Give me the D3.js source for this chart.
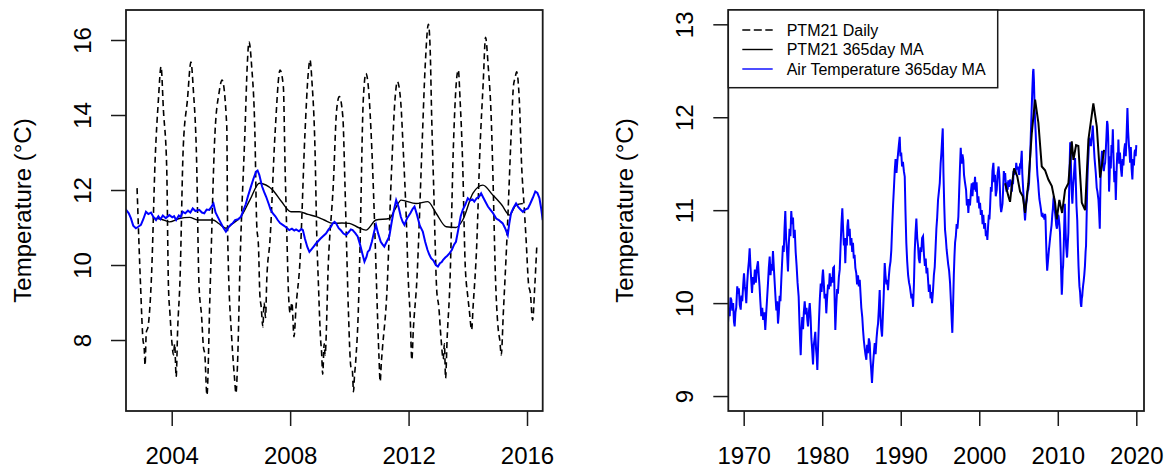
<!DOCTYPE html>
<html>
<head>
<meta charset="utf-8">
<script src="https://cdnjs.cloudflare.com/ajax/libs/d3/7.8.5/d3.min.js"></script>
<style>
  body { margin: 0; background: #fff; }
  svg { display: block; font-family: "Liberation Sans", Arial, Helvetica, sans-serif; }
</style>
</head>
<body>
<svg id="chart" width="1171" height="472"></svg>
<script>
// PTM21 daily water temperature (decimal year, °C)
const dailyYears = [
  2002.83, 2002.95, 2003.03, 2003.07, 2003.10, 2003.14, 2003.20, 2003.32, 2003.44, 2003.55, 2003.64, 2003.72, 2003.83, 2003.89, 2003.94,
  2004.00, 2004.06, 2004.10, 2004.15, 2004.20, 2004.28, 2004.39, 2004.53, 2004.65, 2004.73, 2004.84, 2004.92,
  2005.01, 2005.07, 2005.12, 2005.19, 2005.29, 2005.46, 2005.60, 2005.70, 2005.86, 2005.89,
  2006.03, 2006.08, 2006.12, 2006.17, 2006.22, 2006.31, 2006.48, 2006.55, 2006.61, 2006.70, 2006.81, 2006.87, 2006.93, 2006.98,
  2007.02, 2007.08, 2007.12, 2007.17, 2007.21, 2007.32, 2007.49, 2007.66, 2007.77, 2007.83, 2007.89, 2007.94,
  2008.00, 2008.06, 2008.13, 2008.20, 2008.33, 2008.50, 2008.61, 2008.67, 2008.74, 2008.84, 2008.90, 2008.95,
  2009.03, 2009.06, 2009.10, 2009.15, 2009.18, 2009.29, 2009.46, 2009.57, 2009.66, 2009.78, 2009.85, 2009.91, 2009.97,
  2010.05, 2010.10, 2010.14, 2010.17, 2010.22, 2010.30, 2010.36, 2010.47, 2010.56, 2010.64, 2010.76, 2010.87, 2010.93,
  2011.00, 2011.04, 2011.08, 2011.12, 2011.26, 2011.43, 2011.54, 2011.62, 2011.73, 2011.82, 2011.92, 2011.99,
  2012.05, 2012.11, 2012.16, 2012.28, 2012.45, 2012.56, 2012.67, 2012.73, 2012.78, 2012.86, 2012.90, 2012.95,
  2013.02, 2013.10, 2013.17, 2013.21, 2013.25, 2013.30, 2013.40, 2013.51, 2013.63, 2013.68, 2013.74, 2013.83, 2013.91,
  2014.00, 2014.05, 2014.13, 2014.18, 2014.30, 2014.41, 2014.52, 2014.60, 2014.69, 2014.79, 2014.87, 2014.92,
  2015.03, 2015.08, 2015.13, 2015.20, 2015.32, 2015.49, 2015.54, 2015.60, 2015.65, 2015.74, 2015.82, 2015.90, 2015.97,
  2016.05, 2016.12, 2016.16, 2016.19, 2016.26, 2016.33
];
const dailyTemps = [
  12.05, 9.40, 8.00, 7.80, 7.33, 8.20, 8.35, 9.76, 12.80, 14.40, 15.29, 14.13, 12.62, 9.42, 8.72,
  8.00, 7.60, 7.90, 7.02, 8.27, 9.60, 13.15, 14.40, 15.41, 14.67, 12.80, 9.50,
  8.62, 7.82, 7.60, 6.53, 9.16, 13.50, 14.60, 14.93, 13.69, 10.76,
  8.00, 7.40, 7.00, 6.58, 7.30, 10.10, 13.70, 15.30, 15.95, 15.30, 13.50, 11.10, 10.50, 9.16,
  8.90, 8.35, 9.00, 8.60, 9.60, 10.67, 13.50, 15.20, 14.76, 12.57, 10.76, 9.33,
  8.72, 9.00, 8.09, 8.90, 10.07, 13.50, 15.10, 15.47, 14.85, 13.07, 10.76, 9.60,
  8.00, 7.70, 7.09, 7.90, 7.60, 10.05, 12.18, 14.13, 14.49, 13.95, 12.18, 10.40, 8.72,
  7.29, 7.20, 6.62, 7.00, 7.50, 8.72, 10.50, 14.40, 15.11, 14.76, 13.07, 10.67, 9.16,
  7.56, 6.89, 7.40, 7.80, 9.16, 12.62, 14.40, 14.89, 14.40, 13.07, 11.29, 9.60,
  8.72, 7.47, 8.27, 9.60, 13.07, 15.29, 16.42, 15.73, 13.95, 11.73, 10.50, 9.33,
  8.89, 8.00, 7.49, 7.90, 6.98, 8.00, 9.60, 13.07, 15.02, 15.20, 14.40, 12.62, 10.05,
  9.16, 8.80, 8.27, 8.90, 10.50, 13.07, 14.85, 16.07, 15.29, 13.95, 11.73, 10.05,
  8.27, 8.00, 7.60, 8.72, 10.67, 13.95, 14.76, 15.00, 15.15, 14.40, 12.62, 11.60, 10.67,
  9.51, 9.20, 8.72, 8.53, 9.40, 10.49
];

// PTM21 365-day moving average (detail view)
const ptmMaYears = [
  2003.36, 2003.65, 2003.92, 2004.26, 2004.60, 2004.88, 2005.15, 2005.39, 2005.60, 2005.83, 2006.05, 2006.34, 2006.65, 2006.96,
  2007.41, 2007.70, 2008.03, 2008.31, 2008.60, 2008.88, 2009.15, 2009.44, 2009.75, 2010.00, 2010.30, 2010.56, 2010.90,
  2011.35, 2011.55, 2011.75, 2012.25, 2012.65, 2012.93, 2013.27, 2013.60, 2013.83, 2014.17, 2014.51, 2014.84, 2015.15,
  2015.41, 2015.63, 2015.86
];
const ptmMaTemps = [
  11.25, 11.22, 11.15, 11.24, 11.27, 11.20, 11.20, 11.20, 11.10, 10.98, 11.10, 11.29, 11.75, 12.18,
  12.00, 11.70, 11.42, 11.42, 11.35, 11.29, 11.20, 11.11, 11.12, 11.11, 11.00, 10.93, 11.20,
  11.24, 11.50, 11.73, 11.64, 11.69, 11.38, 11.02, 11.00, 11.20, 11.91, 12.13, 11.87, 11.60,
  11.33, 11.60, 11.64
];

// PTM21 365-day moving average (long-term view)
const ptmMaLongYears = [
  2003.29, 2003.71, 2003.92, 2004.14, 2004.43, 2004.85, 2005.20, 2005.54, 2005.83, 2006.25, 2006.69, 2007.11, 2007.53,
  2007.96, 2008.38, 2008.80, 2009.24, 2009.66, 2009.87, 2010.20, 2010.55, 2010.93, 2011.35, 2011.78, 2011.99, 2012.33,
  2012.62, 2013.06, 2013.48, 2013.90, 2014.53, 2014.97, 2015.39, 2015.90
];
const ptmMaLongTemps = [
  11.29, 11.15, 11.09, 11.26, 11.45, 11.36, 11.20, 11.15, 10.97, 11.29, 11.83, 12.19, 11.94,
  11.47, 11.43, 11.33, 11.26, 11.08, 10.90, 11.11, 10.97, 11.22, 11.29, 11.74, 11.54, 11.70,
  11.69, 11.08, 11.00, 11.76, 12.15, 11.90, 11.35, 11.65
];

// Air temperature 365-day moving average
const airYears = [
  1968.00, 1968.12, 1968.22, 1968.32, 1968.42, 1968.55, 1968.66, 1968.76, 1968.85, 1968.95, 1969.05, 1969.18, 1969.28,
  1969.38, 1969.50, 1969.62, 1969.72, 1969.82, 1969.94, 1970.04, 1970.14, 1970.24, 1970.33, 1970.45, 1970.55, 1970.66,
  1970.76, 1970.86, 1970.96, 1971.06, 1971.18, 1971.30, 1971.42, 1971.55, 1971.68, 1971.82, 1971.92, 1972.02, 1972.12,
  1972.24, 1972.36, 1972.48, 1972.62, 1972.75, 1972.86, 1972.98, 1973.10, 1973.20, 1973.31, 1973.42, 1973.52, 1973.62,
  1973.73, 1973.84, 1973.96, 1974.06, 1974.16, 1974.27, 1974.37, 1974.48, 1974.58, 1974.68, 1974.79, 1974.90, 1975.00,
  1975.10, 1975.20, 1975.30, 1975.40, 1975.52, 1975.64, 1975.74, 1975.84, 1975.95, 1976.06, 1976.16, 1976.28, 1976.38,
  1976.50, 1976.62, 1976.74, 1976.86, 1977.00, 1977.10, 1977.18, 1977.26, 1977.36, 1977.46, 1977.56, 1977.66, 1977.77,
  1977.88, 1978.00, 1978.10, 1978.19, 1978.30, 1978.41, 1978.52, 1978.62, 1978.72, 1978.83, 1978.93, 1979.03, 1979.12,
  1979.22, 1979.30, 1979.38, 1979.48, 1979.58, 1979.70, 1979.81, 1979.92, 1980.02, 1980.10, 1980.20, 1980.30, 1980.42,
  1980.52, 1980.62, 1980.74, 1980.85, 1980.96, 1981.06, 1981.18, 1981.28, 1981.40, 1981.50, 1981.58, 1981.67, 1981.78,
  1981.90, 1982.00, 1982.12, 1982.23, 1982.34, 1982.45, 1982.56, 1982.66, 1982.76, 1982.85, 1982.94, 1983.04, 1983.14,
  1983.20, 1983.29, 1983.40, 1983.50, 1983.60, 1983.72, 1983.82, 1983.92, 1984.02, 1984.12, 1984.22, 1984.34, 1984.44,
  1984.56, 1984.66, 1984.78, 1984.88, 1984.98, 1985.10, 1985.20, 1985.30, 1985.40, 1985.50, 1985.62, 1985.72, 1985.82,
  1985.94, 1986.05, 1986.14, 1986.24, 1986.34, 1986.44, 1986.54, 1986.62, 1986.69, 1986.80, 1986.92, 1987.02, 1987.11,
  1987.22, 1987.32, 1987.42, 1987.52, 1987.62, 1987.72, 1987.84, 1987.96, 1988.06, 1988.18, 1988.28, 1988.38, 1988.48,
  1988.58, 1988.70, 1988.80, 1988.90, 1989.02, 1989.14, 1989.24, 1989.34, 1989.46, 1989.56, 1989.66, 1989.76, 1989.87,
  1989.96, 1990.06, 1990.17, 1990.28, 1990.40, 1990.51, 1990.60, 1990.71, 1990.82, 1990.94, 1991.06, 1991.16, 1991.27,
  1991.36, 1991.46, 1991.57, 1991.68, 1991.78, 1991.88, 1991.99, 1992.10, 1992.20, 1992.30, 1992.42, 1992.52, 1992.62,
  1992.72, 1992.84, 1992.96, 1993.08, 1993.18, 1993.28, 1993.38, 1993.48, 1993.58, 1993.70, 1993.80, 1993.90, 1993.99,
  1994.10, 1994.22, 1994.33, 1994.44, 1994.54, 1994.64, 1994.75, 1994.86, 1994.97, 1995.08, 1995.18, 1995.26, 1995.35,
  1995.44, 1995.54, 1995.64, 1995.74, 1995.84, 1995.94, 1996.04, 1996.16, 1996.28, 1996.40, 1996.50, 1996.57, 1996.66,
  1996.76, 1996.84, 1996.92, 1997.02, 1997.12, 1997.22, 1997.34, 1997.44, 1997.54, 1997.64, 1997.74, 1997.86, 1997.97,
  1998.06, 1998.18, 1998.32, 1998.42, 1998.52, 1998.61, 1998.72, 1998.82, 1998.94, 1999.04, 1999.14, 1999.24, 1999.36,
  1999.46, 1999.56, 1999.66, 1999.78, 1999.89, 2000.00, 2000.10, 2000.20, 2000.32, 2000.42, 2000.52, 2000.62, 2000.74,
  2000.84, 2000.94, 2001.03, 2001.12, 2001.22, 2001.30, 2001.38, 2001.48, 2001.58, 2001.68, 2001.80, 2001.90, 2002.00,
  2002.10, 2002.23, 2002.34,
  2002.46, 2002.55, 2002.62, 2002.70, 2002.79, 2002.87, 2002.96, 2003.04, 2003.13, 2003.21, 2003.30, 2003.38, 2003.47,
  2003.55, 2003.62, 2003.70, 2003.80, 2003.92, 2004.02, 2004.08, 2004.15, 2004.24, 2004.30, 2004.37, 2004.46, 2004.55,
  2004.63, 2004.71, 2004.80, 2004.93, 2005.02, 2005.10, 2005.18, 2005.27, 2005.34, 2005.41, 2005.48, 2005.55, 2005.64,
  2005.74, 2005.83, 2005.93, 2006.00, 2006.06, 2006.14, 2006.24, 2006.34, 2006.44, 2006.50, 2006.57, 2006.66, 2006.76,
  2006.85, 2006.90, 2006.96, 2007.05, 2007.12, 2007.19, 2007.28, 2007.34, 2007.41, 2007.50, 2007.58, 2007.66, 2007.75,
  2007.84, 2007.90, 2007.97, 2008.06, 2008.14, 2008.20, 2008.30, 2008.38, 2008.43, 2008.50, 2008.58, 2008.65, 2008.72,
  2008.80, 2008.88, 2008.93, 2009.02, 2009.10, 2009.21, 2009.30, 2009.38, 2009.44, 2009.50, 2009.55, 2009.64, 2009.72,
  2009.80, 2009.89, 2009.98, 2010.05, 2010.11, 2010.20, 2010.28, 2010.36, 2010.44, 2010.51, 2010.58, 2010.62, 2010.68,
  2010.76, 2010.84, 2010.90, 2010.97, 2011.06, 2011.12, 2011.18, 2011.26, 2011.35, 2011.42, 2011.50, 2011.58, 2011.66,
  2011.74, 2011.80, 2011.86, 2011.95, 2012.06, 2012.14, 2012.20, 2012.28, 2012.38, 2012.48, 2012.56, 2012.64, 2012.70,
  2012.76, 2012.84, 2012.92, 2012.99, 2013.06, 2013.12, 2013.16, 2013.24, 2013.30, 2013.38, 2013.46, 2013.54, 2013.60,
  2013.68, 2013.76, 2013.83, 2013.92, 2014.00, 2014.08, 2014.16, 2014.22, 2014.30, 2014.38, 2014.45, 2014.52, 2014.60,
  2014.68, 2014.76, 2014.84, 2014.90, 2014.96, 2015.05, 2015.12, 2015.18, 2015.26, 2015.35, 2015.40, 2015.46, 2015.54,
  2015.63, 2015.70, 2015.78, 2015.86, 2015.94, 2016.03, 2016.10, 2016.20, 2016.28, 2016.35, 2016.42, 2016.48, 2016.53,
  2016.60, 2016.66, 2016.75, 2016.84, 2016.92, 2017.01, 2017.10, 2017.20, 2017.30, 2017.39, 2017.48, 2017.58, 2017.66,
  2017.72, 2017.82, 2017.92, 2018.04, 2018.15, 2018.26, 2018.36, 2018.46, 2018.57, 2018.66, 2018.76, 2018.87, 2018.96,
  2019.06, 2019.14, 2019.21, 2019.30, 2019.40, 2019.50, 2019.60, 2019.70, 2019.78, 2019.84, 2019.92, 2020.00
];
const airTemps = [
  9.78, 9.95, 9.86, 10.06, 10.04, 9.92, 10.00, 9.80, 9.75, 9.90, 9.95, 10.18, 10.10,
  10.16, 9.98, 9.93, 10.08, 10.02, 10.20, 10.32, 10.18, 10.12, 10.00, 10.22, 10.35, 10.45,
  10.59, 10.40, 10.25, 10.11, 10.28, 10.20, 10.36, 10.22, 10.38, 10.45, 10.30, 10.18, 10.02,
  9.86, 9.95, 9.82, 9.90, 9.71, 9.88, 10.05, 10.22, 10.38, 10.50, 10.30, 10.42, 10.35,
  10.56, 10.38, 10.20, 10.05, 9.92, 10.02, 9.78, 9.90, 10.08, 10.02, 10.25, 10.45, 10.62,
  10.55, 10.80, 10.99, 10.70, 10.55, 10.34, 10.62, 10.80, 10.72, 10.99, 10.85, 10.92, 10.70,
  10.79, 10.55, 10.40, 10.22, 10.07, 9.80, 9.60, 9.44, 9.70, 9.85, 9.72, 9.90, 10.02,
  9.88, 9.95, 9.82, 9.75, 9.90, 10.00, 9.85, 9.62, 9.50, 9.34, 9.55, 9.62, 9.69,
  9.50, 9.42, 9.28, 9.55, 9.80, 10.05, 10.21, 10.12, 10.28, 10.36, 10.22, 10.05, 10.10,
  9.89, 10.05, 10.20, 10.15, 10.32, 10.18, 10.28, 10.22, 10.38, 10.39, 10.05, 9.71, 9.95,
  10.15, 10.10, 10.28, 10.36, 10.62, 10.85, 11.02, 10.80, 10.62, 10.70, 10.43, 10.70, 10.62,
  10.82, 10.90, 10.72, 10.80, 10.62, 10.70, 10.55, 10.65, 10.48, 10.52, 10.38, 10.32, 10.20,
  10.30, 10.18, 10.25, 10.10, 9.95, 9.85, 9.71, 9.60, 9.52, 9.45, 9.39, 9.55, 9.46,
  9.62, 9.57, 9.40, 9.28, 9.14, 9.30, 9.42, 9.50, 9.57, 9.45, 9.62, 9.72, 9.78,
  9.95, 10.14, 9.85, 9.72, 9.64, 9.85, 10.10, 10.43, 10.30, 10.20, 10.25, 10.14, 10.28,
  10.38, 10.45, 10.57, 10.80, 11.05, 11.25, 11.43, 11.55, 11.40, 11.52, 11.61, 11.70, 11.79,
  11.58, 11.62, 11.47, 11.52, 11.42, 11.36, 11.00, 10.65, 10.45, 10.30, 10.22, 10.18, 10.11,
  10.05, 10.10, 9.96, 10.20, 10.55, 10.75, 10.91, 10.70, 10.62, 10.48, 10.43, 10.60, 10.55,
  10.70, 10.72, 10.52, 10.40, 10.48, 10.32, 10.38, 10.25, 10.12, 10.20, 10.05, 10.12, 10.00,
  10.12, 10.30, 10.39, 10.60, 10.80, 10.92, 11.11, 11.20, 11.29, 11.50, 11.62, 11.75, 11.88,
  11.40, 11.05, 10.79, 10.70, 10.58, 10.50, 10.42, 10.35, 10.22, 10.00, 9.80, 9.68, 9.95,
  10.30, 10.50, 10.65, 10.72, 10.85, 10.80, 10.93, 11.20, 11.45, 11.67, 11.50, 11.60, 11.54,
  11.38, 11.30, 11.22, 11.05, 11.12, 10.97, 11.12, 11.05, 11.20, 11.29, 11.15, 11.30, 11.22,
  11.36, 11.20, 11.30, 11.08, 11.15, 11.02, 11.08, 10.95, 11.00, 10.85, 10.95, 10.80, 10.86,
  10.72, 10.78, 10.68, 10.82, 10.95, 10.90, 11.04, 11.25, 11.20, 11.42, 11.51, 11.30, 11.38,
  11.15, 11.22, 11.40,
  11.47, 11.38, 11.25, 11.05, 10.98, 11.02, 11.07, 11.22, 11.42, 11.36, 11.40, 11.28, 11.20,
  11.30, 11.22, 11.32, 11.25, 11.33, 11.27, 11.30, 11.20, 11.32, 11.28, 11.42, 11.38, 11.45,
  11.40, 11.51, 11.44, 11.47, 11.40, 11.38, 11.48, 11.47, 11.55, 11.64, 11.40, 11.29, 11.15,
  11.00, 10.89, 11.02, 11.08, 11.11, 11.20, 11.22, 11.29, 11.50, 11.62, 11.82, 12.05, 12.30,
  12.49, 12.52, 12.40, 12.10, 11.95, 11.82, 11.62, 11.48, 11.38, 11.30, 11.20, 11.12, 11.07,
  11.02, 10.98, 10.93, 10.97, 10.92, 10.95, 10.90, 10.96, 10.93, 10.70, 10.48, 10.35, 10.42,
  10.50, 10.58, 10.62, 10.70, 10.76, 10.84, 10.95, 11.02, 11.11, 11.15, 11.11, 10.98, 10.92,
  10.84, 10.80, 10.88, 10.95, 10.93, 10.85, 10.76, 10.55, 10.30, 10.09, 10.22, 10.35, 10.40,
  10.62, 10.90, 11.07, 10.85, 10.62, 10.55, 10.49, 10.62, 10.76, 11.10, 11.45, 11.73, 11.55,
  11.28, 11.15, 11.07, 11.25, 11.38, 11.50, 11.56, 11.35, 11.05, 10.89, 10.62, 10.40, 10.28,
  10.18, 10.12, 10.00, 9.96, 10.05, 10.08, 10.13, 10.20, 10.24, 10.31, 10.40, 10.55, 10.62,
  10.95, 11.30, 11.47, 11.62, 11.78, 11.72, 11.75, 11.69, 11.78, 11.82, 11.91, 11.80, 11.68,
  11.56, 11.48, 11.40, 11.32, 11.24, 11.20, 11.15, 11.11, 10.98, 10.80, 11.10, 11.38, 11.52,
  11.64, 11.55, 11.48, 11.42, 11.48, 11.51, 11.62, 11.80, 11.96, 11.92, 11.78, 11.50, 11.20,
  11.35, 11.58, 11.45, 11.70, 11.62, 11.87, 11.55, 11.30, 11.42, 11.11, 11.40, 11.62, 11.55,
  11.76, 11.50, 11.62, 11.45, 11.36, 11.55, 11.48, 11.65, 11.72, 11.58, 11.80, 12.10, 11.85,
  11.70, 11.62, 11.51, 11.68, 11.45, 11.33, 11.55, 11.48, 11.62, 11.65, 11.58, 11.70
];

// Axis ticks
const leftYearTicks = [2004, 2008, 2012, 2016];
const leftTempTicks = [8, 10, 12, 14, 16];
const rightYearTicks = [1970, 1980, 1990, 2000, 2010, 2020];
const rightTempTicks = [9, 10, 11, 12, 13];

// Legend entries
const legendLabels = ["PTM21 Daily", "PTM21 365day MA", "Air Temperature 365day MA"];
const yTitle = "Temperature (°C)";

const zip = (xs, ys) => xs.map((x, i) => ({ x, y: ys[i] }));
const daily = zip(dailyYears, dailyTemps);
const ptmMa = zip(ptmMaYears, ptmMaTemps);
const ptmMaLong = zip(ptmMaLongYears, ptmMaLongTemps);
const air = zip(airYears, airTemps);

const svg = d3.select("#chart");
svg.append("rect").attr("width", 1171).attr("height", 472).attr("fill", "#fff");

const AXIS_COLOR = "#1a1a1a";
const BLUE = "#0000ff";

function drawPanel(opt) {
  const { id, x0, x1, y0, y1, xDomain, yDomain, xTicks, yTicks } = opt;
  const x = d3.scaleLinear().domain(xDomain).range([x0, x1]);
  const y = d3.scaleLinear().domain(yDomain).range([y1, y0]);

  svg.append("clipPath").attr("id", id)
    .append("rect").attr("x", x0).attr("y", y0).attr("width", x1 - x0).attr("height", y1 - y0);

  const plot = svg.append("g").attr("clip-path", `url(#${id})`);

  // Bottom axis
  const gx = svg.append("g").attr("transform", `translate(0,${y1})`)
    .call(d3.axisBottom(x).tickValues(xTicks).tickFormat(d3.format("d")).tickSize(15));
  gx.select(".domain").remove();
  gx.selectAll(".tick line").attr("stroke", AXIS_COLOR).attr("stroke-width", 1.5);
  gx.selectAll(".tick text").attr("y", 53).attr("dy", null)
    .attr("font-size", 24).attr("fill", "#000").attr("font-family", null);

  // Left axis with rotated labels
  const gy = svg.append("g").attr("transform", `translate(${x0},0)`)
    .call(d3.axisLeft(y).tickValues(yTicks).tickFormat(d3.format("d")).tickSize(15));
  gy.select(".domain").remove();
  gy.selectAll(".tick line").attr("stroke", AXIS_COLOR).attr("stroke-width", 1.5);
  gy.selectAll(".tick text").attr("x", null).attr("dy", null)
    .attr("text-anchor", "middle").attr("transform", "translate(-35,0) rotate(-90)")
    .attr("font-size", 24).attr("fill", "#000").attr("font-family", null);

  // Axis title
  svg.append("text")
    .attr("transform", `translate(${x0 - 95},${(y0 + y1) / 2}) rotate(-90)`)
    .attr("text-anchor", "middle").attr("font-size", 24).attr("fill", "#000")
    .text(yTitle);

  // Plot frame
  svg.append("rect").attr("x", x0).attr("y", y0).attr("width", x1 - x0).attr("height", y1 - y0)
    .attr("fill", "none").attr("stroke", AXIS_COLOR).attr("stroke-width", 1.8);

  const lineOf = curve => d3.line().x(d => x(d.x)).y(d => y(d.y)).curve(curve);
  return { x, y, plot, lineOf };
}

// Left panel: daily record with moving averages
const L = drawPanel({
  id: "clipLeft", x0: 126, x1: 542.7, y0: 10, y1: 411,
  xDomain: [2002.456, 2016.53], yDomain: [6.107, 16.8],
  xTicks: leftYearTicks, yTicks: leftTempTicks
});
L.plot.append("path").datum(daily)
  .attr("d", L.lineOf(d3.curveMonotoneX))
  .attr("fill", "none").attr("stroke", "#000").attr("stroke-width", 1.6).attr("stroke-dasharray", "6,4");
L.plot.append("path").datum(ptmMa)
  .attr("d", L.lineOf(d3.curveMonotoneX))
  .attr("fill", "none").attr("stroke", "#000").attr("stroke-width", 1.4);
L.plot.append("path").datum(air)
  .attr("d", L.lineOf(d3.curveLinear))
  .attr("fill", "none").attr("stroke", BLUE).attr("stroke-width", 2);

// Right panel: long-term air temperature
const R = drawPanel({
  id: "clipRight", x0: 728.3, x1: 1144, y0: 10, y1: 411,
  xDomain: [1968.04, 2020.98], yDomain: [8.839, 13.154],
  xTicks: rightYearTicks, yTicks: rightTempTicks
});
R.plot.append("path").datum(air)
  .attr("d", R.lineOf(d3.curveLinear))
  .attr("fill", "none").attr("stroke", BLUE).attr("stroke-width", 2);
R.plot.append("path").datum(ptmMaLong)
  .attr("d", R.lineOf(d3.curveLinear))
  .attr("fill", "none").attr("stroke", "#000").attr("stroke-width", 2);

// Legend
const legend = svg.append("g");
legend.append("rect").attr("x", 728.3).attr("y", 10).attr("width", 269.4).attr("height", 77.7)
  .attr("fill", "#fff").attr("stroke", AXIS_COLOR).attr("stroke-width", 1.5);
const legendStyles = [
  { color: "#000", dash: "8,3.5", width: 1.4 },
  { color: "#000", dash: null, width: 1.4 },
  { color: BLUE, dash: null, width: 1.4 }
];
legendLabels.forEach((label, i) => {
  const cy = 30 + i * 19.5;
  const s = legendStyles[i];
  legend.append("line").attr("x1", 742.3).attr("x2", 772.7).attr("y1", cy).attr("y2", cy)
    .attr("stroke", s.color).attr("stroke-width", s.width).attr("stroke-dasharray", s.dash);
  legend.append("text").attr("x", 786.7).attr("y", cy).attr("dy", "0.35em")
    .attr("font-size", 16).attr("fill", "#000").text(label);
});
</script>
</body>
</html>
